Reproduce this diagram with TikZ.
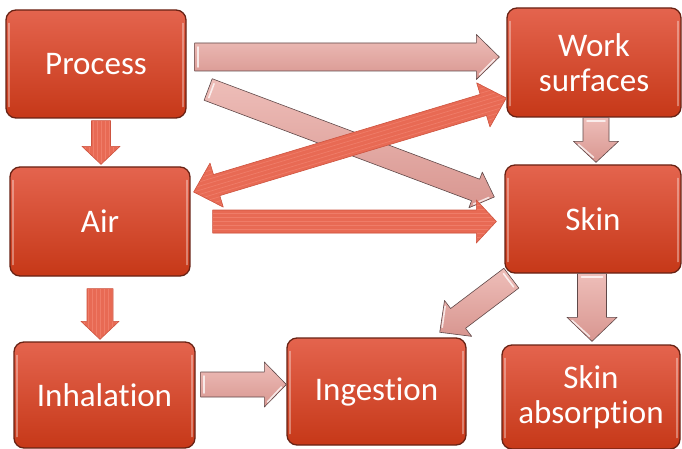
\documentclass[tikz,border=0pt]{standalone}
\usepackage{fontspec}
\setmainfont{Carlito}[Ligatures=NoCommon]
\usetikzlibrary{calc}
\definecolor{boxtop}{RGB}{228,100,78}
\definecolor{boxbot}{RGB}{198,56,24}
\definecolor{boxline}{RGB}{105,34,20}
\definecolor{lighttop}{RGB}{238,190,185}
\definecolor{lightbot}{RGB}{216,150,144}
\definecolor{lightline}{RGB}{95,72,72}
\definecolor{redfill}{RGB}{232,106,84}
\definecolor{redline}{RGB}{205,84,64}
\definecolor{redstripe}{RGB}{239,124,104}
\tikzset{
  box/.style={rectangle, rounded corners=10pt, draw=boxline, line width=1.3pt,
    top color=boxtop, bottom color=boxbot, text=white,
    font=\fontsize{33}{35}\selectfont, align=center, inner sep=0pt},
  gloss/.style={white, opacity=0.35, line width=1.4pt, line cap=round}
}
% #1 red(1)/light(0), #2 from, #3 to, #4 half shaft, #5 half head, #6 head length, #7 double(1/0)
\newcommand\blockarr[7]{%
  \path let \p1=(#2), \p2=(#3) in \pgfextra{%
    \pgfmathsetmacro\tmpang{atan2((\y2)-(\y1),(\x2)-(\x1))}%
    \pgfmathsetmacro\tmplen{veclen((\x2)-(\x1),(\y2)-(\y1))}%
    \global\let\bang\tmpang\global\let\blen\tmplen};
  \def\bhs{#4}\def\bhh{#5}\def\bhl{#6}%
  \ifnum#7=1
    \def\bpoly{(0,0) -- (\bhl,-\bhh) -- (\bhl,-\bhs) -- ({\blen-\bhl},-\bhs) -- ({\blen-\bhl},-\bhh) -- (\blen,0) -- ({\blen-\bhl},\bhh) -- ({\blen-\bhl},\bhs) -- (\bhl,\bhs) -- (\bhl,\bhh) -- cycle}%
  \else
    \def\bpoly{(0,-\bhs) -- ({\blen-\bhl},-\bhs) -- ({\blen-\bhl},-\bhh) -- (\blen,0) -- ({\blen-\bhl},\bhh) -- ({\blen-\bhl},\bhs) -- (0,\bhs) -- cycle}%
  \fi
  \begin{scope}[shift={(#2)}, rotate=\bang]
    \ifnum#1=1
      \fill[redfill] \bpoly;
      \begin{scope}
        \clip \bpoly;
        \foreach \s in {-24,-20,...,24} \draw[redstripe, line width=0.7pt] (0,\s) -- (\blen,\s);
      \end{scope}
      \draw[redline, line width=0.6pt, line join=round] \bpoly;
    \else
      \shade[top color=lighttop, bottom color=lightbot] \bpoly;
      \draw[lightline, line width=0.6pt, line join=round] \bpoly;
      \draw[white, opacity=0.75, line width=1.6pt, line cap=round] (3.5,{\bhs-4}) -- (3.5,{-\bhs+4});
      \draw[white, opacity=0.75, line width=1.6pt, line cap=round] ({\blen-\bhl+3},{\bhh-5}) -- ({\blen-5},2.5);
    \fi
  \end{scope}}
\begin{document}
\begin{tikzpicture}[x=1pt, y=-1pt]
\useasboundingbox (0,0) rectangle (682,449);
% boxes
\node[box, minimum width=180pt, minimum height=108pt] (proc) at (96,64) {Process};
\node[box, minimum width=180pt, minimum height=109pt] (air) at (100,221.5) {Air};
\node[box, minimum width=174pt, minimum height=109pt] (work) at (594,62.5) {Work\\surfaces};
\node[box, minimum width=176pt, minimum height=108pt] (skin) at (593,219) {Skin};
\node[box, minimum width=181pt, minimum height=106pt] (inh) at (104.5,395) {Inhalation};
\node[box, minimum width=179pt, minimum height=107pt] (ing) at (376.5,391.5) {Ingestion};
\node[box, minimum width=178pt, minimum height=104pt] (abs) at (591,397) {Skin\\absorption};
\foreach \n in {proc,air,work,skin,inh,ing,abs}{
  \draw[gloss] ($(\n.north west)+(3.5,14)$) -- ($(\n.south west)+(3.5,-12)$);
  \draw[gloss] ($(\n.north east)+(-3.5,14)$) -- ($(\n.south east)+(-3.5,-12)$);
}
% arrow end points
\coordinate (a1s) at ($(proc.east)+(8,-7)$);
\coordinate (a1e) at ($(work.west)+(-7,-5.5)$);
\coordinate (a2s) at ($(proc.east)+(21.5,25.5)$);
\coordinate (a2e) at ($(skin.west)+(-10,-22)$);
\coordinate (a3s) at ($(air.east)+(3,-29.5)$);
\coordinate (a3e) at ($(work.west)+(0,35.5)$);
\coordinate (a4s) at ($(air.east)+(22,0)$);
\coordinate (a4e) at ($(skin.west)+(-8,2.5)$);
\coordinate (a5s) at ($(proc.south)+(5,2)$);
\coordinate (a5e) at ($(air.north)+(1,-2)$);
\coordinate (a6s) at ($(air.south)+(0,12)$);
\coordinate (a6e) at ($(inh.north)+(-4.5,-2)$);
\coordinate (a7s) at ($(work.south)+(2,0)$);
\coordinate (a7e) at ($(skin.north)+(3,-2)$);
\coordinate (a8s) at ($(skin.south west)+(7,4.5)$);
\coordinate (a8e) at ($(ing.north east)+(-27,-5)$);
\coordinate (a9s) at ($(skin.south)+(-1,0)$);
\coordinate (a9e) at ($(abs.north)+(1,-3)$);
\coordinate (a10s) at ($(inh.east)+(5,-10.5)$);
\coordinate (a10e) at ($(ing.west)+(0,-7)$);
% light arrows
\blockarr{0}{a1s}{a1e}{14}{22.5}{23}{0}
\blockarr{0}{a2s}{a2e}{11.5}{19}{20}{0}
\blockarr{0}{a7s}{a7e}{13}{22.5}{21}{0}
\blockarr{0}{a8s}{a8e}{12.4}{22.5}{23}{0}
\blockarr{0}{a9s}{a9e}{14.5}{25}{24}{0}
\blockarr{0}{a10s}{a10e}{12.5}{22.5}{22}{0}
% red arrows
\blockarr{1}{a3s}{a3e}{11}{23}{24}{1}
\blockarr{1}{a4s}{a4e}{11.5}{21.5}{20}{0}
\blockarr{1}{a5s}{a5e}{9.5}{19}{18}{0}
\blockarr{1}{a6s}{a6e}{13}{19}{18}{0}
\end{tikzpicture}
\end{document}
